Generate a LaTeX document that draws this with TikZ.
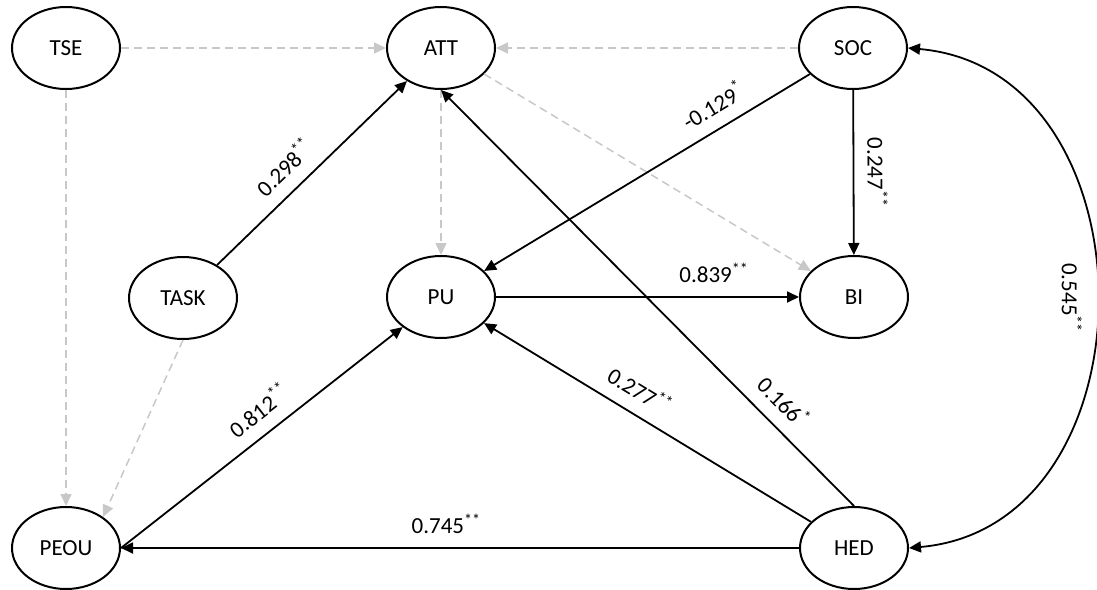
\documentclass[tikz,border=0pt]{standalone}
\usepackage{fontspec}
\setmainfont{Carlito}
\usetikzlibrary{arrows.meta,shapes.geometric}
\definecolor{nsgray}{RGB}{200,200,200}
\tikzset{
  sigtip/.tip={Triangle[length=6pt,width=5.5pt]},
  construct/.style={draw, ellipse, line width=1pt, minimum width=54pt,
    minimum height=41pt, inner sep=0pt},
  sig/.style={draw, line width=0.9pt, -sigtip},
  nonsig/.style={draw=nsgray, line width=0.75pt, dash pattern=on 4pt off 2.5pt, -sigtip},
  coef/.style={sloped, inner sep=6.5pt}
}
\begin{document}
\begin{tikzpicture}[x=0.5pt, y=-0.5pt, font=\fontsize{11.5}{14}\selectfont]
  \useasboundingbox (0,0) rectangle (1097,589);
  % constructs
  \node[construct] (tse)  at (66,48)   {TSE};
  \node[construct] (att)  at (441,48)  {ATT};
  \node[construct] (soc)  at (853,48)  {SOC};
  \node[construct] (task) at (183,298) {TASK};
  \node[construct] (pu)   at (441,297) {PU};
  \node[construct] (bi)   at (854,297) {BI};
  \node[construct] (peou) at (66,548)  {PEOU};
  \node[construct] (hed)  at (854,548) {HED};
  % non-significant paths
  \draw[nonsig] (tse) -- (att);
  \draw[nonsig] (soc) -- (att);
  \draw[nonsig] (tse) -- (peou);
  \draw[nonsig] (task.south) -- (peou.40);
  \draw[nonsig] (att.south) -- (pu);
  \draw[nonsig] (att) -- (bi);
  % significant paths
  \draw[sig] (task) -- node[coef, above, pos=0.44] {0.298\textsuperscript{**}} (att);
  \draw[sig] (soc) -- node[coef, above, pos=0.26] {-0.129\textsuperscript{*}} (pu);
  \draw[sig] (soc) -- node[coef, above] {0.247\textsuperscript{**}} (bi);
  \draw[sig] (pu) -- node[coef, above, pos=0.72] {0.839\textsuperscript{**}} (bi);
  \draw[sig] (peou.east) -- node[coef, above, pos=0.54] {0.812\textsuperscript{**}} (pu);
  \draw[sig] (hed) -- node[coef, above, pos=0.56] {0.277\textsuperscript{**}} (pu);
  \draw[sig] (hed.north) -- node[coef, above, pos=0.21] {0.166\textsuperscript{*}} (att.south);
  \draw[sig] (hed) -- node[coef, above, pos=0.52] {0.745\textsuperscript{**}} (peou);
  % correlation
  \draw[sig, sigtip-sigtip] (soc.east) .. controls +(250,22) and +(250,-22) ..
    node[coef, below] {0.545\textsuperscript{**}} (hed.east);
\end{tikzpicture}
\end{document}
